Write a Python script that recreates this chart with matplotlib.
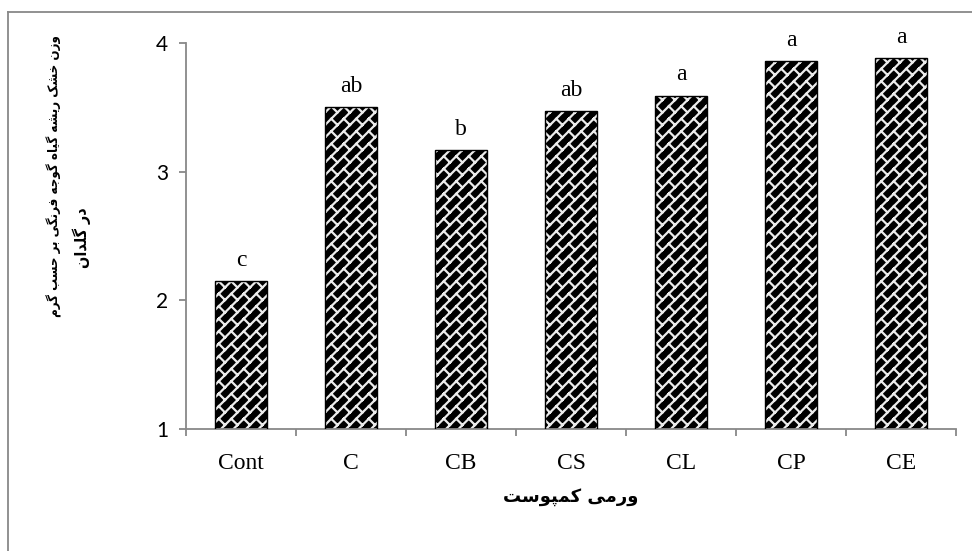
import warnings
import numpy as np
import matplotlib
matplotlib.use("Agg")
import matplotlib.pyplot as plt
import matplotlib.hatch as mhatch
from matplotlib.lines import Line2D
from matplotlib.path import Path

warnings.filterwarnings("ignore")

# ---- data -------------------------------------------------------------
categories = ["Cont", "C", "CB", "CS", "CL", "CP", "CE"]
dry_weight = [2.15, 3.50, 3.17, 3.47, 3.59, 3.86, 3.88]
groups = ["c", "ab", "b", "ab", "a", "a", "a"]
y_ticks = [1, 2, 3, 4]
ylabel_lines = ["وزن خشک ریشه گیاه گوجه فرنگی بر حسب گرم", "در گلدان"]
xlabel_text = "ورمی کمپوست"


# ---- minimal Arabic/Persian shaping (contextual forms + RTL order) ----
# forms: (isolated, final, initial, medial); None means right-joining only
FORMS = {
    "ا": (0xFE8D, 0xFE8E, None, None),
    "ب": (0xFE8F, 0xFE90, 0xFE91, 0xFE92),
    "پ": (0xFB56, 0xFB57, 0xFB58, 0xFB59),
    "ت": (0xFE95, 0xFE96, 0xFE97, 0xFE98),
    "ج": (0xFE9D, 0xFE9E, 0xFE9F, 0xFEA0),
    "ح": (0xFEA1, 0xFEA2, 0xFEA3, 0xFEA4),
    "خ": (0xFEA5, 0xFEA6, 0xFEA7, 0xFEA8),
    "د": (0xFEA9, 0xFEAA, None, None),
    "ر": (0xFEAD, 0xFEAE, None, None),
    "ز": (0xFEAF, 0xFEB0, None, None),
    "س": (0xFEB1, 0xFEB2, 0xFEB3, 0xFEB4),
    "ش": (0xFEB5, 0xFEB6, 0xFEB7, 0xFEB8),
    "ف": (0xFED1, 0xFED2, 0xFED3, 0xFED4),
    "ک": (0xFB8E, 0xFB8F, 0xFB90, 0xFB91),
    "گ": (0xFB92, 0xFB93, 0xFB94, 0xFB95),
    "ل": (0xFEDD, 0xFEDE, 0xFEDF, 0xFEE0),
    "م": (0xFEE1, 0xFEE2, 0xFEE3, 0xFEE4),
    "ن": (0xFEE5, 0xFEE6, 0xFEE7, 0xFEE8),
    "ه": (0xFEE9, 0xFEEA, 0xFEEB, 0xFEEC),
    "و": (0xFEED, 0xFEEE, None, None),
    "ی": (0xFBFC, 0xFBFD, 0xFBFE, 0xFBFF),
}


def shape_rtl(text):
    out = []
    n = len(text)
    for i, ch in enumerate(text):
        if ch not in FORMS:
            out.append(ch)
            continue
        iso, fin, ini, med = FORMS[ch]
        prev = text[i - 1] if i > 0 else None
        nxt = text[i + 1] if i < n - 1 else None
        join_prev = prev in FORMS and FORMS[prev][2] is not None
        join_next = ini is not None and nxt in FORMS
        if join_prev and join_next:
            code = med
        elif join_prev:
            code = fin
        elif join_next:
            code = ini
        else:
            code = iso
        out.append(chr(code))
    return "".join(reversed(out))


# ---- diagonal brick hatch ------------------------------------------------
class DiagonalBrickHatch(mhatch.HatchPatternBase):
    """Running lines at 45 degrees with staggered perpendicular joints."""

    def __init__(self, hatch, density):
        self.rows = 8 if "k" in hatch else 0
        self.segments = []
        if self.rows:
            d = 1.0 / self.rows
            n = self.rows
            for k in range(-n - 1, n + 2):
                c = k * d
                self.segments.append(((-0.2, -0.2 + c), (1.2, 1.2 + c)))
                # each joint climbs half a period, so successive rows
                # come out offset by half a brick
                for j in range(-n - 2, 2 * n + 3):
                    x0 = j * d
                    p0 = (x0, x0 + c)
                    p1 = (x0 - d / 2, x0 + c + d / 2)
                    xs = (p0[0], p1[0])
                    ys = (p0[1], p1[1])
                    if max(xs) < -0.1 or min(xs) > 1.1 or max(ys) < -0.1 or min(ys) > 1.1:
                        continue
                    self.segments.append((p0, p1))
        self.num_vertices = 2 * len(self.segments)

    def set_vertices_and_codes(self, vertices, codes):
        for i, (p0, p1) in enumerate(self.segments):
            vertices[2 * i] = p0
            vertices[2 * i + 1] = p1
            codes[2 * i] = Path.MOVETO
            codes[2 * i + 1] = Path.LINETO


mhatch._hatch_types.append(DiagonalBrickHatch)

# ---- style ---------------------------------------------------------------
plt.rcParams["hatch.linewidth"] = 1.6
axis_grey = "#888888"
serif = "Liberation Serif"
sans = "Lato"
arabic = ["DejaVu Sans"]

W, H = 972, 551
fig = plt.figure(figsize=(W / 100, H / 100), dpi=100)
ax = fig.add_axes([186 / W, 1 - 429 / H, (956 - 186) / W, (429 - 43) / H])

x = np.arange(len(categories))
bar_w = 0.47
ax.bar(x, dry_weight, width=bar_w, bottom=0, color="black",
       edgecolor="#ececec", linewidth=0, hatch="k", zorder=2)
ax.bar(x, dry_weight, width=bar_w, bottom=0, facecolor="none",
       edgecolor="black", linewidth=1.0, zorder=3)

for xi, v, g in zip(x, dry_weight, groups):
    ax.annotate(g, (xi, v), xytext=(0, 11), textcoords="offset points",
                ha="center", va="baseline", fontfamily=serif, fontsize=17,
                color="black")

ax.set_xlim(-0.5, len(categories) - 0.5)
ax.set_ylim(1, 4)
ax.set_yticks(y_ticks)
ax.set_yticklabels([str(t) for t in y_ticks], fontfamily=sans, fontsize=15)
ax.set_xticks(x)
ax.set_xticklabels(categories, fontfamily=serif, fontsize=17)
ax.set_xticks(np.arange(len(categories) + 1) - 0.5, minor=True)

for s in ["top", "right"]:
    ax.spines[s].set_visible(False)
for s in ["left", "bottom"]:
    ax.spines[s].set_color(axis_grey)
    ax.spines[s].set_linewidth(1.3)

ax.tick_params(axis="y", which="major", direction="out", length=5,
               width=1.3, color=axis_grey, pad=8)
ax.tick_params(axis="x", which="major", length=0, pad=17)
ax.tick_params(axis="x", which="minor", direction="out", length=5,
               width=1.3, color=axis_grey)

# axis titles
ytitle_kw = dict(rotation=90, ha="center", va="center", fontfamily=arabic,
                 fontweight="bold", fontstretch="condensed")
fig.text(54 / W, 1 - 176 / H, shape_rtl(ylabel_lines[0]), fontsize=9.5,
         **ytitle_kw)
fig.text(82 / W, 1 - 238 / H, shape_rtl(ylabel_lines[1]), fontsize=11.5,
         **ytitle_kw)
fig.text(571 / W, 1 - 497 / H, shape_rtl(xlabel_text), ha="center",
         va="center", fontsize=13, fontfamily=arabic, fontweight="bold")

# chart frame (left and top edges)
frame_kw = dict(color=axis_grey, linewidth=1.3, transform=fig.transFigure)
fig.add_artist(Line2D([8 / W, 8 / W], [0, 1 - 12 / H], **frame_kw))
fig.add_artist(Line2D([8 / W, 1], [1 - 12 / H, 1 - 12 / H], **frame_kw))

fig.savefig("out.png", dpi=100)
